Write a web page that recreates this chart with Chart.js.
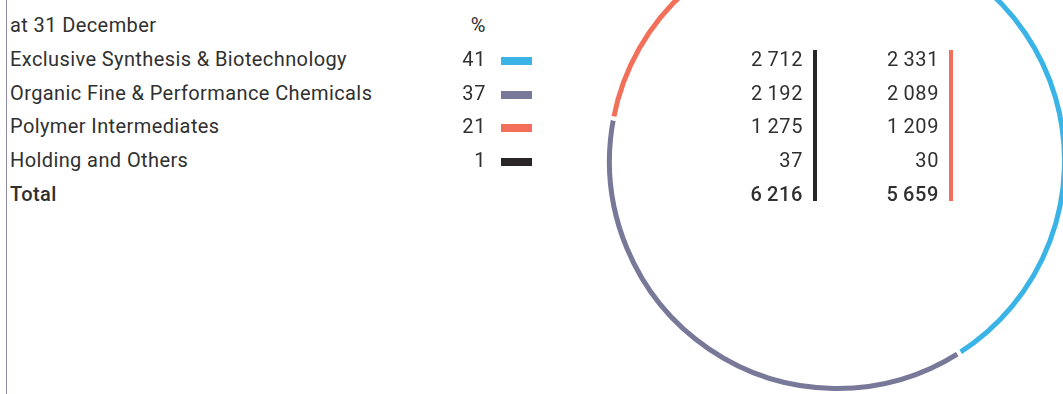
<!DOCTYPE html>
<html lang="en">
<head>
<meta charset="UTF-8">
<title>Sales by Division</title>
<script src="https://cdn.jsdelivr.net/npm/chart.js"></script>
<style>
body {
    margin: 0;
    width: 1063px;
    height: 394px;
    overflow: hidden;
    position: relative;
    background: #fff;
    font-family: Roboto, "Open Sans", sans-serif;
    font-size: 20px;
    color: #303030;
}
.rule {
    position: absolute;
    left: 6px;
    top: 0;
    width: 1px;
    height: 394px;
    background: #8e8eab;
}
.cell {
    position: absolute;
    line-height: 34px;
    height: 34px;
    white-space: nowrap;
    letter-spacing: 0.4px;
}
.num { text-align: right; letter-spacing: 0.6px; }
.bold { font-weight: 500; }
.marker {
    position: absolute;
    left: 501px;
    width: 31px;
    height: 8px;
}
.bar {
    position: absolute;
    top: 50px;
    width: 4px;
    height: 151px;
}
#ring {
    position: absolute;
    left: 603px;
    top: -73px;
}
</style>
</head>
<body>
<div class="rule"></div>
<canvas id="ring" width="468" height="468"></canvas>
<div id="table"></div>

<script>
const divisions = ["Exclusive Synthesis & Biotechnology", "Organic Fine & Performance Chemicals", "Polymer Intermediates", "Holding and Others"];
const shares = [41, 37, 21, 1];
const salesCurrent = [2712, 2192, 1275, 37];
const salesPrior = [2331, 2089, 1209, 30];
const totals = [6216, 5659];
const colors = ["#3ab4e6", "#787899", "#f2705a", "#2a2627"];

// thousands separated by a thin space
function fmt(n) {
    return String(n).replace(/\B(?=(\d{3})+(?!\d))/g, "\u2009");
}

const table = document.getElementById("table");
const rowTop = i => 8 + i * 33.8;

function cell(text, top, left, width, cls) {
    const d = document.createElement("div");
    d.className = "cell " + (cls || "");
    d.style.top = top + "px";
    d.style.left = left + "px";
    if (width) d.style.width = width + "px";
    d.textContent = text;
    table.appendChild(d);
}

// header row
cell("at 31 December", rowTop(0), 10);
cell("%", rowTop(0), 436, 50, "num");

divisions.forEach((name, i) => {
    const t = rowTop(i + 1);
    cell(name, t, 10);
    cell(String(shares[i]), t, 436, 50, "num");
    cell(fmt(salesCurrent[i]), t, 703, 100, "num");
    cell(fmt(salesPrior[i]), t, 839, 100, "num");
    const m = document.createElement("div");
    m.className = "marker";
    m.style.top = (t + 15) + "px";
    m.style.background = colors[i];
    table.appendChild(m);
});

const tt = rowTop(5);
cell("Total", tt, 10, 0, "bold");
cell(fmt(totals[0]), tt, 703, 100, "num bold");
cell(fmt(totals[1]), tt, 839, 100, "num bold");

// column bars
[[813, colors[3]], [949, colors[2]]].forEach(([x, c]) => {
    const b = document.createElement("div");
    b.className = "bar";
    b.style.left = x + "px";
    b.style.background = c;
    table.appendChild(b);
});

new Chart(document.getElementById("ring"), {
    type: "doughnut",
    data: {
        labels: divisions,
        datasets: [{
            data: shares,
            backgroundColor: colors,
            borderColor: "#ffffff",
            borderWidth: 4
        }]
    },
    options: {
        responsive: false,
        devicePixelRatio: 1,
        animation: false,
        cutout: 223,
        rotation: 0,
        layout: { padding: 0 },
        plugins: {
            legend: { display: false },
            tooltip: { enabled: false }
        }
    }
});
</script>
</body>
</html>
